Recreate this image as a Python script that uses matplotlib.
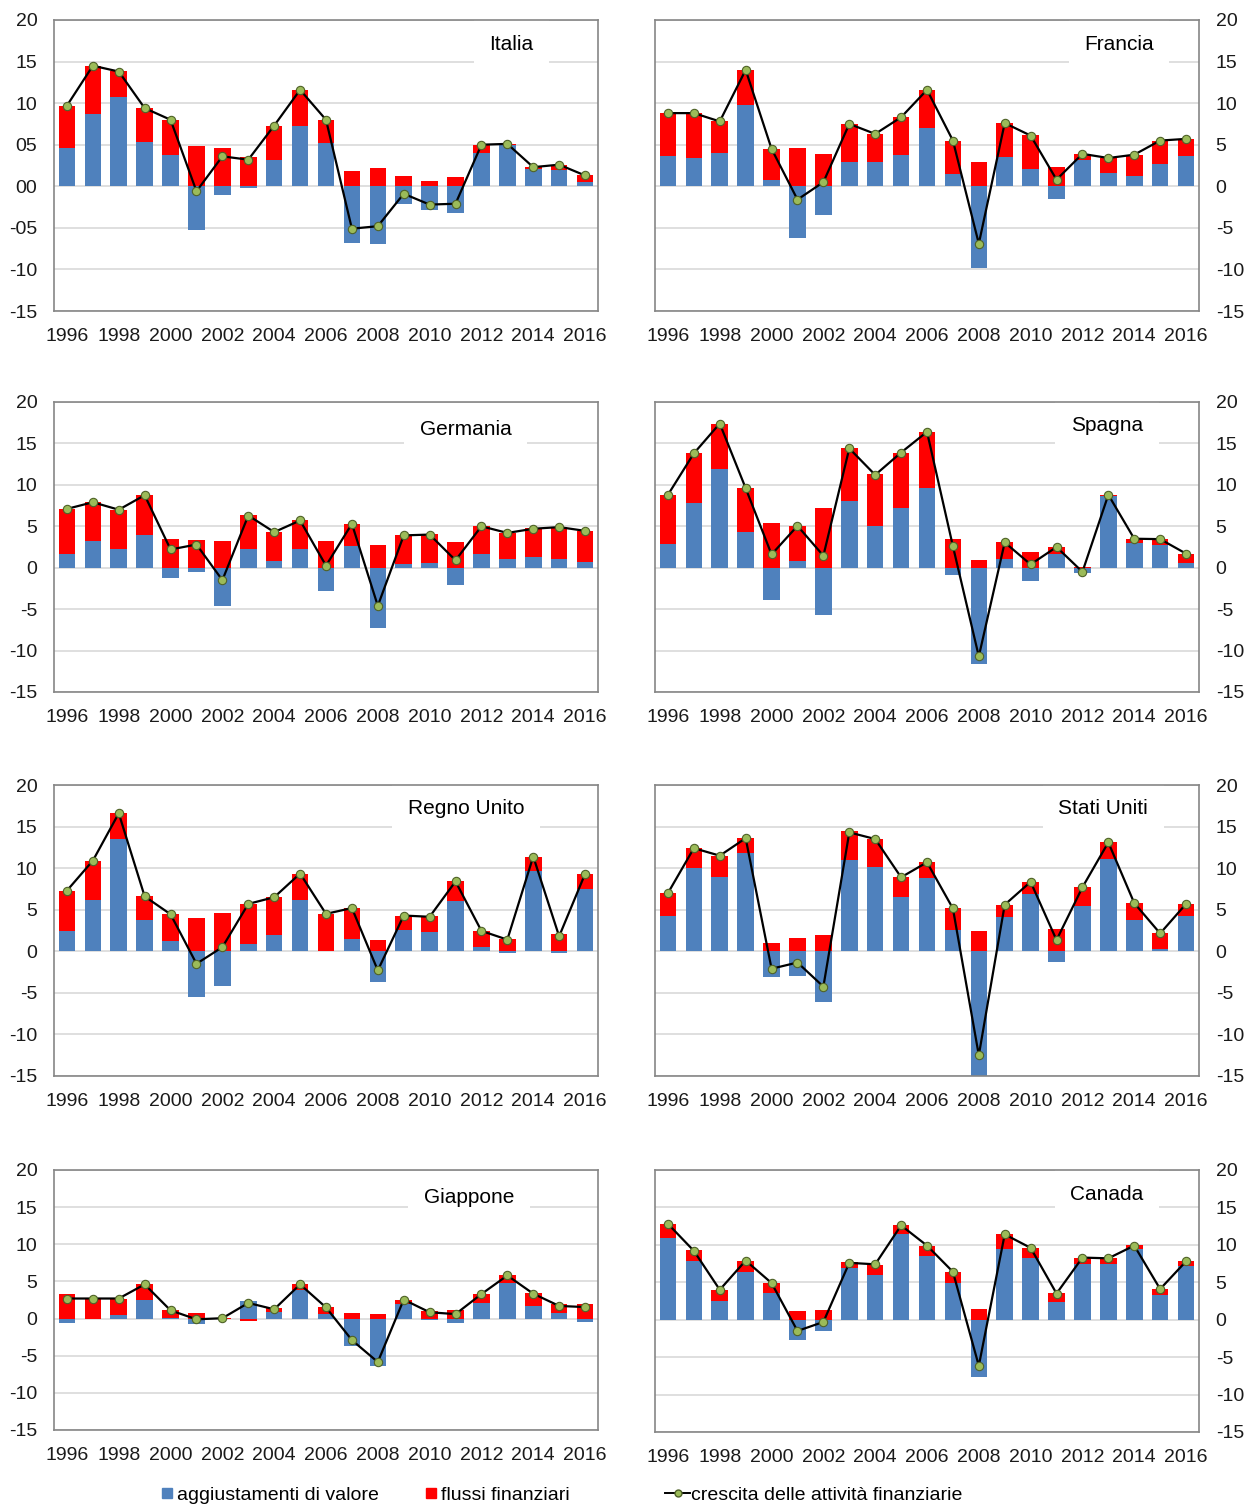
import numpy as np
import matplotlib
matplotlib.use("Agg")
import matplotlib.pyplot as plt
from matplotlib.lines import Line2D

plt.rcParams['font.family'] = ['Liberation Sans', 'DejaVu Sans']
plt.rcParams['axes.unicode_minus'] = False

years = list(range(1996, 2017))

# aggiustamenti di valore / flussi finanziari / crescita delle attività finanziarie
italia_valore = [4.6, 8.75, 10.7, 5.3, 3.8, -5.3, -1.0, -0.25, 3.2, 7.2, 5.2, -6.8, -7.0, -2.1, -2.9, -3.2, 4.0, 5.0, 2.1, 1.9, 0.5]
italia_flussi = [5.1, 5.75, 3.2, 4.1, 4.2, 4.9, 4.6, 3.5, 4.1, 4.4, 2.8, 1.8, 2.2, 1.2, 0.6, 1.1, 1.0, 0.1, 0.2, 0.7, 0.8]
italia_crescita = [9.7, 14.5, 13.8, 9.4, 8.0, -0.6, 3.6, 3.2, 7.3, 11.6, 8.0, -5.1, -4.8, -0.9, -2.2, -2.1, 5.0, 5.1, 2.3, 2.6, 1.3]

francia_valore = [3.6, 3.45, 4.0, 9.8, 0.8, -6.2, -3.4, 2.9, 2.9, 3.8, 7.0, 1.5, -9.8, 3.5, 2.1, -1.5, 3.2, 1.6, 1.2, 2.7, 3.7]
francia_flussi = [5.2, 5.35, 3.8, 4.2, 3.7, 4.6, 3.9, 4.65, 3.4, 4.55, 4.6, 4.0, 2.9, 4.1, 4.1, 2.3, 0.7, 1.8, 2.6, 2.8, 2.0]
francia_crescita = [8.8, 8.8, 7.8, 14.0, 4.5, -1.6, 0.5, 7.5, 6.3, 8.3, 11.6, 5.5, -6.9, 7.6, 6.1, 0.8, 3.9, 3.4, 3.8, 5.5, 5.7]

germania_valore = [1.6, 3.25, 2.2, 3.9, -1.25, -0.5, -4.65, 2.25, 0.85, 2.2, -2.85, 2.6, -7.3, 0.45, 0.55, -2.1, 1.7, 1.0, 1.3, 1.1, 0.7]
germania_flussi = [5.5, 4.65, 4.8, 4.85, 3.45, 3.4, 3.25, 4.1, 3.5, 3.55, 3.2, 2.7, 2.8, 3.5, 3.5, 3.15, 3.35, 3.2, 3.45, 3.85, 3.75]
germania_crescita = [7.1, 7.9, 7.0, 8.75, 2.2, 2.8, -1.5, 6.3, 4.3, 5.7, 0.25, 5.3, -4.6, 3.9, 4.0, 0.9, 5.0, 4.2, 4.7, 4.9, 4.45]

spagna_valore = [2.85, 7.8, 11.9, 4.35, -3.85, 0.85, -5.7, 8.05, 5.05, 7.25, 9.6, -0.85, -11.65, 1.1, -1.6, 1.65, -0.6, 8.7, 3.0, 2.8, 0.55]
spagna_flussi = [5.95, 6.0, 5.5, 5.25, 5.45, 4.2, 7.2, 6.45, 6.25, 6.65, 6.8, 3.45, 0.95, 1.95, 1.9, 0.85, 0.1, 0.1, 0.5, 0.65, 1.15]
spagna_crescita = [8.8, 13.8, 17.4, 9.6, 1.6, 5.05, 1.45, 14.4, 11.2, 13.9, 16.4, 2.6, -10.7, 3.05, 0.4, 2.5, -0.5, 8.8, 3.5, 3.45, 1.7]

regno_valore = [2.5, 6.2, 13.5, 3.8, 1.25, -5.45, -4.15, 0.9, 2.0, 6.2, 0.0, 1.5, -3.75, 2.55, 2.3, 6.05, 0.5, -0.15, 9.6, -0.25, 7.55]
regno_flussi = [4.7, 4.7, 3.1, 2.85, 3.2, 4.0, 4.65, 4.8, 4.5, 3.15, 4.5, 3.75, 1.4, 1.75, 1.9, 2.35, 1.95, 1.5, 1.8, 2.05, 1.8]
regno_crescita = [7.3, 10.9, 16.6, 6.6, 4.45, -1.5, 0.5, 5.7, 6.5, 9.35, 4.5, 5.2, -2.3, 4.3, 4.15, 8.4, 2.45, 1.4, 11.4, 1.8, 9.3]

usa_valore = [4.3, 10.05, 8.9, 11.8, -3.15, -2.95, -6.05, 11.0, 10.1, 6.5, 8.8, 2.55, -15.0, 4.1, 6.9, -1.3, 5.45, 11.1, 3.8, 0.3, 4.2]
usa_flussi = [2.75, 2.4, 2.6, 1.8, 1.05, 1.65, 1.9, 3.5, 3.4, 2.4, 1.9, 2.6, 2.5, 1.5, 1.45, 2.7, 2.25, 2.1, 2.0, 1.85, 1.5]
usa_crescita = [7.0, 12.4, 11.5, 13.6, -2.1, -1.35, -4.25, 14.3, 13.5, 8.9, 10.7, 5.15, -12.5, 5.6, 8.35, 1.35, 7.7, 13.1, 5.8, 2.15, 5.7]

giappone_valore = [-0.6, 0.0, 0.5, 2.5, 0.1, -0.7, 0.0, 2.4, 0.9, 3.8, 0.6, -3.65, -6.45, 1.9, -0.2, -0.6, 2.1, 4.8, 1.75, 0.75, -0.4]
giappone_flussi = [3.3, 2.7, 2.2, 2.1, 1.0, 0.7, 0.1, -0.3, 0.5, 0.85, 0.95, 0.75, 0.55, 0.65, 1.05, 1.15, 1.25, 1.05, 1.65, 1.15, 1.95]
giappone_crescita = [2.7, 2.7, 2.7, 4.6, 1.1, -0.1, 0.05, 2.1, 1.25, 4.6, 1.5, -2.9, -5.85, 2.55, 0.85, 0.6, 3.3, 5.8, 3.35, 1.7, 1.55]

canada_valore = [10.85, 7.85, 2.55, 6.4, 3.55, -2.7, -1.45, 6.85, 5.95, 11.45, 8.45, 4.9, -7.7, 9.45, 8.3, 2.4, 7.45, 7.45, 9.5, 3.3, 7.2]
canada_flussi = [1.95, 1.4, 1.45, 1.45, 1.35, 1.2, 1.25, 0.8, 1.35, 1.2, 1.45, 1.5, 1.45, 1.95, 1.3, 1.15, 0.85, 0.8, 0.5, 0.8, 0.7]
canada_crescita = [12.8, 9.2, 4.0, 7.9, 4.9, -1.5, -0.3, 7.6, 7.4, 12.6, 9.9, 6.4, -6.15, 11.4, 9.6, 3.5, 8.3, 8.2, 9.9, 4.1, 7.8]

y_ticks = [20, 15, 10, 5, 0, -5, -10, -15]
italia_tick_labels = ["20", "15", "10", "05", "00", "-05", "-10", "-15"]

BLUE = "#4f81bd"
RED = "#ff0000"
GRID = "#d9d9d9"
SPINE = "#868686"
MARK_FACE = "#9bbb59"
MARK_EDGE = "#4f6228"

W, H = 1251, 1504
fig = plt.figure(figsize=(W / 100, H / 100), dpi=100)


def px_axes(x0, x1, y0, y1):
    return fig.add_axes([x0 / W, 1 - y1 / H, (x1 - x0) / W, (y1 - y0) / H])


def panel(ax, title, valore, flussi, crescita, title_xy, side="left", tick_labels=None):
    valore = np.array(valore)
    flussi = np.array(flussi)
    # Excel-style stacking: positive parts go up from zero, negative parts down
    same = np.sign(flussi) == np.sign(valore)
    red_bottom = np.where(same, valore, 0.0)
    ax.bar(years, valore, width=0.64, color=BLUE, zorder=2)
    ax.bar(years, flussi, width=0.64, bottom=red_bottom, color=RED, zorder=2)
    ax.plot(years, crescita, color="black", lw=1.6, marker="o", ms=6,
            mfc=MARK_FACE, mec=MARK_EDGE, mew=0.8, zorder=4)

    ax.set_xlim(1995.5, 2016.5)
    ax.set_ylim(-15, 20)
    ax.set_yticks(y_ticks)
    if tick_labels is not None:
        ax.set_yticklabels(tick_labels)
    ax.set_xticks(range(1996, 2017, 2))
    ax.set_axisbelow(True)
    ax.yaxis.grid(True, color=GRID, lw=1.2, zorder=0)
    for s in ax.spines.values():
        s.set_color(SPINE)
        s.set_linewidth(1.2)
        s.set_zorder(5)
    ax.tick_params(axis="both", length=0, labelsize=14, colors="#1a1a1a")
    ax.tick_params(axis="x", pad=12)
    ax.tick_params(axis="y", pad=12)
    if side == "right":
        ax.yaxis.tick_right()
    # white label box hides the gridline under the country name
    ax.text(title_xy[0], title_xy[1], title, transform=ax.transAxes, ha="center",
            va="center", fontsize=15, zorder=1.5,
            bbox=dict(boxstyle="square,pad=0.75", fc="white", ec="none"))


LX0, LX1 = 54, 598
RX0, RX1 = 655, 1199

ax = px_axes(LX0, LX1, 20, 311)
panel(ax, "Italia", italia_valore, italia_flussi, italia_crescita, (0.841, 0.915),
      tick_labels=italia_tick_labels)
ax = px_axes(RX0, RX1, 20, 311)
panel(ax, "Francia", francia_valore, francia_flussi, francia_crescita, (0.853, 0.915), side="right")

ax = px_axes(LX0, LX1, 402, 692)
panel(ax, "Germania", germania_valore, germania_flussi, germania_crescita, (0.757, 0.905))
ax = px_axes(RX0, RX1, 402, 692)
panel(ax, "Spagna", spagna_valore, spagna_flussi, spagna_crescita, (0.831, 0.918), side="right")

ax = px_axes(LX0, LX1, 785, 1076)
panel(ax, "Regno Unito", regno_valore, regno_flussi, regno_crescita, (0.757, 0.918))
ax = px_axes(RX0, RX1, 785, 1076)
panel(ax, "Stati Uniti", usa_valore, usa_flussi, usa_crescita, (0.824, 0.918), side="right")

ax = px_axes(LX0, LX1, 1170, 1430)
panel(ax, "Giappone", giappone_valore, giappone_flussi, giappone_crescita, (0.763, 0.896))
ax = px_axes(RX0, RX1, 1170, 1432)
panel(ax, "Canada", canada_valore, canada_flussi, canada_crescita, (0.831, 0.908), side="right")

# legend strip along the bottom edge
legend_y = 1 - 1495 / H
entries = [
    (Line2D([], [], ls="none", marker="s", ms=7, mfc=BLUE, mec=BLUE), "aggiustamenti di valore", 161),
    (Line2D([], [], ls="none", marker="s", ms=7, mfc=RED, mec=RED), "flussi finanziari", 425),
    (Line2D([], [], color="black", lw=1.4, marker="o", ms=5, mfc=MARK_FACE, mec=MARK_EDGE),
     "crescita delle attività finanziarie", 665),
]
for handle, label, x in entries:
    is_line = handle.get_linestyle() != "None"
    fig.legend(handles=[handle], labels=[label], loc="center left",
               bbox_to_anchor=(x / W, legend_y), frameon=False, fontsize=14,
               borderpad=0, borderaxespad=0,
               handlelength=1.3 if is_line else 0.6,
               handletextpad=0.05 if is_line else 0.2)

fig.savefig("out.png", dpi=100)
